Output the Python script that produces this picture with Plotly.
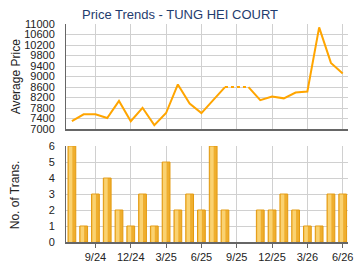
import plotly.graph_objects as go

months = ["7/24","8/24","9/24","10/24","11/24","12/24","1/25","2/25","3/25","4/25","5/25","6/25",
          "7/25","8/25","9/25","10/25","11/25","12/25","1/26","2/26","3/26","4/26","5/26","6/26"]
prices = [7300, 7560, 7560, 7420, 8070, 7300, 7810, 7150, 7610, 8700, 7970, 7610,
          8100, 8600, None, 8600, 8100, 8240, 8170, 8390, 8430, 10870, 9520, 9120]
trans = [6, 1, 3, 4, 2, 1, 3, 1, 5, 2, 3, 2, 6, 2, 0, 0, 2, 2, 3, 2, 1, 1, 3, 3]
tick_labels = ["9/24", "12/24", "3/25", "6/25", "9/25", "12/25", "3/26", "6/26"]
price_ticks = list(range(7000, 11001, 400))

x = list(range(len(months)))
tick_pos = [months.index(t) for t in tick_labels]

gap_x, gap_y = [], []
for i, p in enumerate(prices):
    if p is None:
        gap_x = [i - 1, i + 1]
        gap_y = [prices[i - 1], prices[i + 1]]

bar_y = [v if v > 0 else None for v in trans]

fig = go.Figure()
fig.add_trace(go.Scatter(x=x, y=prices, mode="lines", line=dict(color="#FFA500", width=2),
                         connectgaps=False, xaxis="x", yaxis="y", showlegend=False))
fig.add_trace(go.Scatter(x=gap_x, y=gap_y, mode="lines", line=dict(color="#FFA500", width=2, dash="dot"),
                         xaxis="x", yaxis="y", showlegend=False))
fig.add_trace(go.Bar(x=x, y=bar_y, width=0.66,
                     marker=dict(color="#EFAE2E", line=dict(color="#E39A10", width=1)),
                     xaxis="x2", yaxis="y2", showlegend=False))
fig.add_trace(go.Bar(x=x, y=[v - 0.03 if v else None for v in bar_y], width=0.3, offset=-0.26,
                     marker=dict(color="#FAD271", line=dict(width=0)),
                     xaxis="x2", yaxis="y2", showlegend=False))

font = dict(family="Arial, Liberation Sans, sans-serif", size=11, color="#222222")
xr = [-0.5, 23.45]
fig.update_layout(
    width=360, height=270,
    margin=dict(l=66, r=7, t=24, b=26),
    paper_bgcolor="white", plot_bgcolor="white",
    font=font,
    barmode="overlay",
    title=dict(text="Price Trends - TUNG HEI COURT", x=0.5, xanchor="center", y=0.945, yanchor="middle",
               font=dict(family="Arial, Liberation Sans, sans-serif", size=13, color="#1F3C6E")),
    xaxis=dict(domain=[0, 1], range=xr, tickvals=tick_pos, showticklabels=False,
               showgrid=True, gridcolor="#D0D0D0", gridwidth=1,
               showline=True, linecolor="#666666", linewidth=2, zeroline=False, anchor="y"),
    yaxis=dict(domain=[0.518, 1.0], range=[7000, 11000], tickvals=price_ticks,
               ticktext=[str(v) for v in price_ticks],
               showgrid=True, gridcolor="#D0D0D0", showline=True, linecolor="#666666", linewidth=1,
               zeroline=False, ticks="outside", ticklen=8, tickcolor="white"),
    xaxis2=dict(domain=[0, 1], range=xr, tickvals=tick_pos, ticktext=tick_labels,
                showgrid=True, gridcolor="#D0D0D0", showline=True, linecolor="#666666", linewidth=2,
                ticks="outside", ticklen=4, tickcolor="#666666", zeroline=False, anchor="y2"),
    yaxis2=dict(domain=[0, 0.44], range=[0, 6], tickvals=list(range(0, 7)),
                showgrid=True, gridcolor="#D0D0D0", showline=True, linecolor="#666666", linewidth=1,
                zeroline=False, ticks="outside", ticklen=8, tickcolor="white"),
    annotations=[
        dict(text="Average Price", xref="paper", yref="paper", x=-0.178, y=0.759, textangle=-90,
             showarrow=False, xanchor="center", yanchor="middle", font=dict(size=12, color="#222222")),
        dict(text="No. of Trans.", xref="paper", yref="paper", x=-0.178, y=0.218, textangle=-90,
             showarrow=False, xanchor="center", yanchor="middle", font=dict(size=12, color="#222222")),
    ],
)
fig.write_html("out.html")
